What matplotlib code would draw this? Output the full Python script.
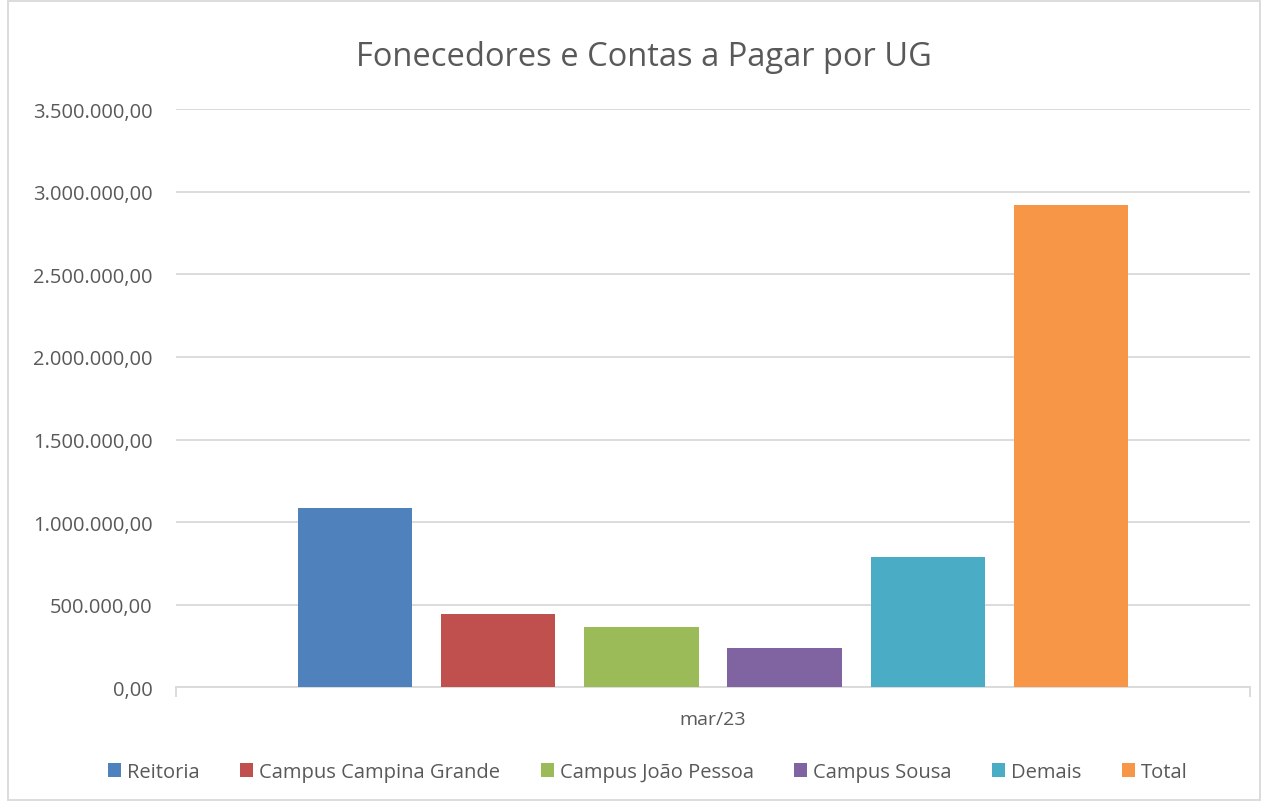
import matplotlib.pyplot as plt
from matplotlib.patches import Rectangle
from matplotlib.ticker import FuncFormatter

# dados
categoria = "mar/23"
unidades = ["Reitoria", "Campus Campina Grande", "Campus João Pessoa",
            "Campus Sousa", "Demais", "Total"]
valores = [1085000, 444000, 366000, 239000, 789000, 2921000]
cores = ["#4F81BD", "#C0504D", "#9BBB59", "#8064A2", "#4BACC6", "#F79646"]
yticks = [0, 500000, 1000000, 1500000, 2000000, 2500000, 3000000, 3500000]


def fmt_br(v, pos=None):
    s = f"{v:,.2f}"
    return s.replace(",", "X").replace(".", ",").replace("X", ".")


def main():
    plt.rcParams["font.family"] = ["Open Sans", "DejaVu Sans"]
    fig = plt.figure(figsize=(12.68, 8.03), dpi=100)
    ax = fig.add_axes([0.1388, 0.1426, 0.8470, 0.7204])

    n = len(unidades)
    for i, (u, v, c) in enumerate(zip(unidades, valores, cores)):
        ax.bar(i - (n - 1) / 2, v, width=0.8, color=c, label=u, zorder=3)

    ax.set_xlim(-3.75, 3.75)
    ax.set_ylim(0, 3500000)
    ax.set_yticks(yticks)
    ax.yaxis.set_major_formatter(FuncFormatter(fmt_br))
    ax.grid(axis="y", color="#d9d9d9", linewidth=1.3, zorder=0)
    ax.tick_params(axis="y", length=0, labelsize=14.5, labelcolor="#595959", pad=17)

    ax.set_xticks([-3.75, 3.75])
    ax.set_xticklabels(["", ""])
    ax.set_xticks([0], minor=True)
    ax.set_xticklabels([categoria], minor=True)
    ax.tick_params(axis="x", which="major", length=7, color="#d9d9d9", width=1.3)
    ax.tick_params(axis="x", which="minor", length=0, labelsize=14,
                   labelcolor="#595959", pad=16)

    for side in ["top", "right", "left"]:
        ax.spines[side].set_visible(False)
    ax.spines["bottom"].set_color("#d9d9d9")
    ax.spines["bottom"].set_linewidth(1.3)

    fig.text(0.508, 0.928, "Fonecedores e Contas a Pagar por UG", ha="center",
             va="center", fontsize=23.5, color="#595959")

    fig.legend(loc="center", bbox_to_anchor=(0.511, 0.037), ncol=6, frameon=False,
               fontsize=14.5, handlelength=0.65, handleheight=0.65, handletextpad=0.3,
               columnspacing=2.0, labelcolor="#595959")

    fig.patches.append(Rectangle((0.006, 0.002), 0.988, 0.996, transform=fig.transFigure,
                                 fill=False, edgecolor="#d9d9d9", linewidth=1.3))

    fig.savefig("out.png", dpi=100)


if __name__ == "__main__":
    main()
